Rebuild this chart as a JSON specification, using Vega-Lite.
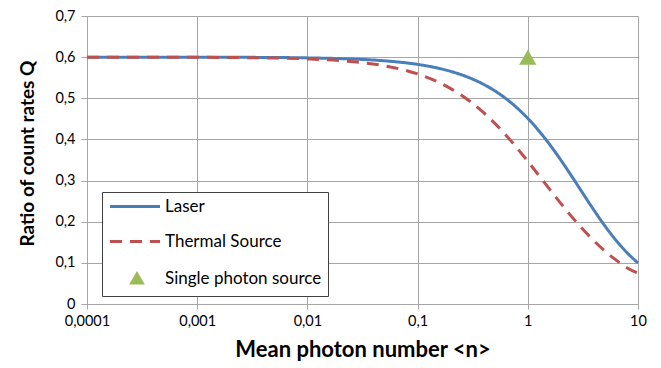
{
  "$schema": "https://vega.github.io/schema/vega-lite/v6.json",
  "width": 551,
  "height": 288,
  "autosize": {"type": "none"},
  "padding": {"left": 87, "top": 16, "right": 23, "bottom": 64},
  "background": "white",
  "config": {"view": {"stroke": null}, "font": "Lato"},
  "data": {
    "values": [
      {"series": "Laser", "n": 0.0001, "Q": 0.6},
      {"series": "Laser", "n": 0.001, "Q": 0.5998},
      {"series": "Laser", "n": 0.003, "Q": 0.5995},
      {"series": "Laser", "n": 0.01, "Q": 0.5982},
      {"series": "Laser", "n": 0.02, "Q": 0.5964},
      {"series": "Laser", "n": 0.05, "Q": 0.5911},
      {"series": "Laser", "n": 0.1, "Q": 0.5824},
      {"series": "Laser", "n": 0.15, "Q": 0.5738},
      {"series": "Laser", "n": 0.2, "Q": 0.5654},
      {"series": "Laser", "n": 0.3, "Q": 0.5491},
      {"series": "Laser", "n": 0.4, "Q": 0.5334},
      {"series": "Laser", "n": 0.5, "Q": 0.5184},
      {"series": "Laser", "n": 0.7, "Q": 0.4899},
      {"series": "Laser", "n": 1, "Q": 0.4512},
      {"series": "Laser", "n": 1.5, "Q": 0.3956},
      {"series": "Laser", "n": 2, "Q": 0.3494},
      {"series": "Laser", "n": 2.5, "Q": 0.3107},
      {"series": "Laser", "n": 3, "Q": 0.2782},
      {"series": "Laser", "n": 4, "Q": 0.2273},
      {"series": "Laser", "n": 5, "Q": 0.19},
      {"series": "Laser", "n": 6, "Q": 0.1621},
      {"series": "Laser", "n": 7, "Q": 0.1407},
      {"series": "Laser", "n": 8, "Q": 0.124},
      {"series": "Laser", "n": 10, "Q": 0.0998},
      {"series": "Thermal Source", "n": 0.0001, "Q": 0.6},
      {"series": "Thermal Source", "n": 0.001, "Q": 0.5996},
      {"series": "Thermal Source", "n": 0.003, "Q": 0.5987},
      {"series": "Thermal Source", "n": 0.01, "Q": 0.5957},
      {"series": "Thermal Source", "n": 0.02, "Q": 0.5914},
      {"series": "Thermal Source", "n": 0.05, "Q": 0.5789},
      {"series": "Thermal Source", "n": 0.1, "Q": 0.5592},
      {"series": "Thermal Source", "n": 0.15, "Q": 0.5408},
      {"series": "Thermal Source", "n": 0.2, "Q": 0.5236},
      {"series": "Thermal Source", "n": 0.3, "Q": 0.4922},
      {"series": "Thermal Source", "n": 0.4, "Q": 0.4644},
      {"series": "Thermal Source", "n": 0.5, "Q": 0.4396},
      {"series": "Thermal Source", "n": 0.7, "Q": 0.3971},
      {"series": "Thermal Source", "n": 1, "Q": 0.3468},
      {"series": "Thermal Source", "n": 1.5, "Q": 0.2864},
      {"series": "Thermal Source", "n": 2, "Q": 0.2439},
      {"series": "Thermal Source", "n": 2.5, "Q": 0.2124},
      {"series": "Thermal Source", "n": 3, "Q": 0.1881},
      {"series": "Thermal Source", "n": 4, "Q": 0.1531},
      {"series": "Thermal Source", "n": 5, "Q": 0.129},
      {"series": "Thermal Source", "n": 6, "Q": 0.1115},
      {"series": "Thermal Source", "n": 7, "Q": 0.0982},
      {"series": "Thermal Source", "n": 8, "Q": 0.0877},
      {"series": "Thermal Source", "n": 10, "Q": 0.075},
      {"series": "Single photon source", "n": 1, "Q": 0.6}
    ]
  },
  "encoding": {
    "x": {
      "field": "n",
      "type": "quantitative",
      "scale": {"type": "log", "domain": [0.0001, 10]},
      "axis": {
        "values": [0.0001, 0.001, 0.01, 0.1, 1, 10],
        "labelExpr": "replace('' + datum.value, '.', ',')",
        "title": "Mean photon number <n>",
        "titleFont": "Lato",
        "titleFontSize": 22,
        "titleFontWeight": "bold",
        "titleColor": "black",
        "titlePadding": 12,
        "grid": true,
        "gridColor": "#a6a6a6",
        "domainColor": "#a6a6a6",
        "tickColor": "#a6a6a6",
        "tickSize": 5,
        "labelFontSize": 14.5,
        "labelColor": "black",
        "labelPadding": 5,
        "labelFlush": false,
        "labelOverlap": false
      }
    },
    "y": {
      "field": "Q",
      "type": "quantitative",
      "scale": {"domain": [0, 0.7]},
      "axis": {
        "values": [0, 0.1, 0.2, 0.3, 0.4, 0.5, 0.6, 0.7],
        "labelExpr": "datum.value == 0 ? '0' : replace(format(datum.value, '.1f'), '.', ',')",
        "title": "Ratio of count rates Q",
        "titleFont": "Lato",
        "titleFontSize": 19,
        "titleFontWeight": "bold",
        "titleColor": "black",
        "titlePadding": 17,
        "titleY": 137,
        "grid": true,
        "gridColor": "#a6a6a6",
        "domainColor": "#a6a6a6",
        "tickColor": "#a6a6a6",
        "tickSize": 6,
        "labelFontSize": 14.5,
        "labelColor": "black",
        "labelPadding": 6
      }
    }
  },
  "layer": [
    {
      "transform": [{"filter": "datum.series !== 'Single photon source'"}],
      "mark": {"type": "line", "strokeWidth": 3, "interpolate": "monotone"},
      "encoding": {
        "color": {
          "field": "series",
          "type": "nominal",
          "scale": {
            "domain": ["Laser", "Thermal Source", "Single photon source"],
            "range": ["#4a7ebb", "#c0504d", "#9bbb59"]
          },
          "legend": {
            "title": null,
            "orient": "none",
            "legendX": 15,
            "legendY": 176,
            "direction": "vertical",
            "strokeColor": "#404040",
            "fillColor": "white",
            "padding": 6,
            "cornerRadius": 0,
            "symbolSize": 100,
            "symbolStrokeWidth": 3,
            "labelFont": "Lato",
            "labelFontSize": 17,
            "labelColor": "black",
            "labelOffset": 24,
            "rowPadding": 17,
            "labelLimit": 300,
            "encode": {
              "symbols": {
                "update": {
                  "x": {"signal": "datum.value === 'Single photon source' ? 29 : 27"},
                  "shape": {"signal": "datum.value === 'Single photon source' ? 'triangle-up' : 'M-5,0H5'"},
                  "size": {"signal": "datum.value === 'Single photon source' ? 110 : 100"},
                  "strokeDash": {"signal": "datum.value === 'Thermal Source' ? [12, 8] : [1, 0]"},
                  "fill": {"signal": "datum.value === 'Single photon source' ? '#9bbb59' : 'transparent'"},
                  "stroke": {"signal": "datum.value === 'Laser' ? '#4a7ebb' : datum.value === 'Thermal Source' ? '#c0504d' : 'transparent'"},
                  "strokeWidth": {"value": 3},
                  "opacity": {"value": 1}
                }
              },
              "labels": {
                "update": {
                  "x": {"value": 57}
                }
              }
            }
          }
        },
        "strokeDash": {
          "field": "series",
          "type": "nominal",
          "scale": {"domain": ["Laser", "Thermal Source"], "range": [[1, 0], [12, 8]]},
          "legend": null
        }
      }
    },
    {
      "transform": [{"filter": "datum.series === 'Single photon source'"}],
      "mark": {"type": "point", "shape": "triangle-up", "filled": true, "size": 300, "opacity": 1},
      "encoding": {
        "color": {"field": "series", "type": "nominal"}
      }
    }
  ]
}
